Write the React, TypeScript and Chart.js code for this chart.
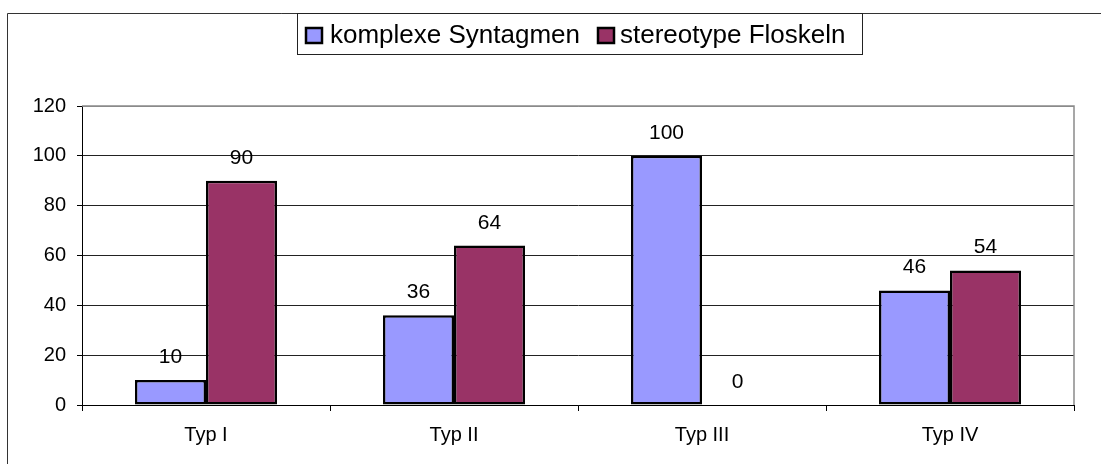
import React, { useEffect, useRef } from "react";
import { Chart, registerables } from "chart.js";

Chart.register(...registerables);

const categories = ["Typ I", "Typ II", "Typ III", "Typ IV"];
const seriesNames = ["komplexe Syntagmen", "stereotype Floskeln"];
const komplexe = [10, 36, 100, 46];
const stereotype = [90, 64, 0, 54];
const seriesColors = ["#9999FF", "#993366"];
const yTicks = [0, 20, 40, 60, 80, 100, 120];

const FONT = "'Liberation Sans', Arial, sans-serif";

const decorPlugin = {
  id: "decor",
  beforeDraw(chart: any) {
    const ctx = chart.ctx;
    ctx.save();
    ctx.fillStyle = "#fff";
    ctx.fillRect(0, 0, chart.width, chart.height);
    ctx.restore();
  },
  afterDraw(chart: any) {
    const ctx = chart.ctx;
    const area = chart.chartArea;
    ctx.save();
    // outer frame (left and top)
    ctx.strokeStyle = "#333";
    ctx.lineWidth = 1;
    ctx.beginPath();
    ctx.moveTo(7.5, chart.height + 5);
    ctx.lineTo(7.5, 13.5);
    ctx.lineTo(chart.width + 5, 13.5);
    ctx.stroke();
    // plot area right/top border gray
    ctx.strokeStyle = "#8a8a8a";
    ctx.lineWidth = 1.5;
    ctx.beginPath();
    ctx.moveTo(area.left, area.top);
    ctx.lineTo(area.right, area.top);
    ctx.lineTo(area.right, area.bottom);
    ctx.stroke();
    // legend
    const lx = 297.5, ly = 13.5, lw = 565, lh = 41;
    ctx.fillStyle = "#fff";
    ctx.fillRect(lx, ly, lw, lh);
    ctx.strokeStyle = "#222";
    ctx.lineWidth = 1;
    ctx.strokeRect(lx, ly, lw, lh);
    ctx.font = `26px ${FONT}`;
    ctx.textBaseline = "alphabetic";
    ctx.textAlign = "left";
    const swatchX = [306, 598];
    const textX = [330, 620];
    seriesNames.forEach((name, i) => {
      ctx.fillStyle = seriesColors[i];
      ctx.fillRect(swatchX[i], 28, 16, 15);
      ctx.strokeStyle = "#000";
      ctx.lineWidth = 2.5;
      ctx.strokeRect(swatchX[i], 28, 16, 15);
      ctx.fillStyle = "#000";
      ctx.fillText(name, textX[i], 43);
    });
    // data labels
    ctx.font = `21px ${FONT}`;
    ctx.textAlign = "center";
    ctx.fillStyle = "#000";
    chart.data.datasets.forEach((ds: any, di: number) => {
      const meta = chart.getDatasetMeta(di);
      meta.data.forEach((el: any, i: number) => {
        ctx.fillText(String(ds.data[i]), el.x, el.y - 17);
      });
    });
    ctx.restore();
  },
};

export default function App() {
  const ref = useRef<HTMLCanvasElement>(null);
  useEffect(() => {
    if (!ref.current) return;
    const chart = new Chart(ref.current, {
      type: "bar",
      data: {
        labels: categories,
        datasets: [
          {
            label: seriesNames[0],
            data: komplexe,
            backgroundColor: seriesColors[0],
            borderColor: "#000",
            borderWidth: 2.5,
            borderSkipped: false,
            categoryPercentage: 0.5726,
            barPercentage: 1,
          },
          {
            label: seriesNames[1],
            data: stereotype,
            backgroundColor: seriesColors[1],
            borderColor: "#000",
            borderWidth: 2.5,
            borderSkipped: false,
            categoryPercentage: 0.5726,
            barPercentage: 1,
          },
        ],
      },
      options: {
        animation: false,
        responsive: true,
        maintainAspectRatio: false,
        layout: { padding: { top: 106, right: 27, left: 0, bottom: 0 } },
        plugins: {
          legend: { display: false },
          tooltip: { enabled: false },
          title: { display: false },
        },
        scales: {
          x: {
            afterFit: (s: any) => {
              s.height = 59;
            },
            grid: {
              offset: true,
              drawOnChartArea: false,
              drawTicks: true,
              tickLength: 6,
              color: "#000",
              tickColor: "#000",
            },
            border: { display: true, color: "#000", width: 1 },
            ticks: {
              color: "#000",
              font: { family: FONT, size: 20 },
              padding: 12,
            },
          },
          y: {
            min: 0,
            max: 120,
            afterFit: (s: any) => {
              s.width = 82;
            },
            afterBuildTicks: (s: any) => {
              s.ticks = yTicks.map((v) => ({ value: v }));
            },
            grid: {
              color: (c: any) => (c.tick && c.tick.value === 120 ? "#8a8a8a" : "#222"),
              tickColor: "#000",
              tickLength: 5,
              lineWidth: 1,
            },
            border: { display: true, color: "#000", width: 1 },
            ticks: {
              color: "#000",
              font: { family: FONT, size: 20 },
              padding: 11,
            },
          },
        },
      },
      plugins: [decorPlugin],
    });
    return () => chart.destroy();
  }, []);
  return (
    <div style={{ position: "absolute", left: 0, top: 0, width: 1101, height: 464, background: "#fff" }}>
      <canvas ref={ref} />
    </div>
  );
}
